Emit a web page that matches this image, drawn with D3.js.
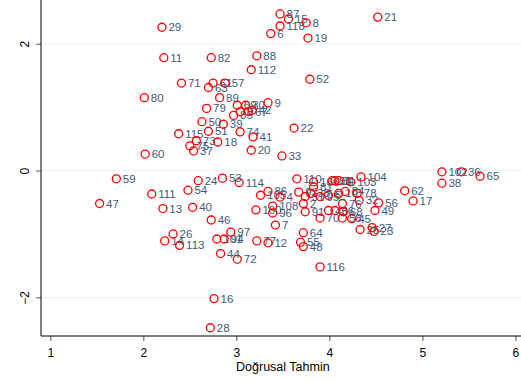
<!DOCTYPE html>
<html>
<head>
<meta charset="utf-8">
<script src="https://cdn.jsdelivr.net/npm/d3@7"></script>
<style>
  body { margin: 0; background: #fff; }
  svg { display: block; font-family: "Liberation Sans", Arial, sans-serif; }
</style>
</head>
<body>
<div id="chart"></div>
<script>
// observation ids, fitted values (x) and residuals (y)
const ids = [87,15,8,118,6,19,21,29,11,82,88,112,52,71,61,57,63,80,89,79,9,69,30,42,3,67,85,50,39,22,
  115,51,74,41,73,75,37,18,20,33,60,59,111,47,13,54,24,53,114,40,46,97,101,94,113,14,26,44,72,16,28,
  77,12,7,108,100,96,105,86,4,110,106,83,34,1,92,81,35,31,2,95,5,10,91,70,43,66,76,68,64,55,48,116,
  104,103,84,78,32,56,49,45,58,25,27,23,102,36,65,38,62,17];
const fitted = [3.47,3.56,3.75,3.47,3.37,3.77,4.52,2.20,2.22,2.73,3.22,3.16,3.79,2.41,2.75,2.88,2.70,2.01,2.82,2.68,3.34,3.01,3.10,3.17,3.04,3.13,2.97,2.63,2.86,3.62,
  2.38,2.70,3.04,3.18,2.57,2.50,2.54,2.80,3.16,3.49,2.02,1.71,2.09,1.53,2.21,2.48,2.59,2.85,3.03,2.53,2.73,2.94,2.79,2.87,2.39,2.23,2.32,2.83,3.01,2.76,2.72,
  3.22,3.34,3.42,3.39,3.21,3.39,3.26,3.34,3.47,3.65,3.83,4.03,4.06,4.10,3.67,3.83,3.80,3.74,3.72,3.90,3.99,4.10,3.74,3.90,3.99,4.06,4.14,4.15,3.72,3.69,3.72,3.90,
  4.34,4.23,4.17,4.30,4.32,4.53,4.49,4.24,4.14,4.33,4.46,4.48,5.21,5.42,5.62,5.21,4.81,4.90];
const resid = [2.47,2.39,2.33,2.28,2.16,2.09,2.42,2.26,1.78,1.78,1.81,1.59,1.44,1.38,1.38,1.38,1.31,1.15,1.15,0.98,1.07,1.03,1.03,0.95,0.93,0.93,0.87,0.77,0.73,0.67,
  0.58,0.62,0.61,0.53,0.47,0.39,0.31,0.45,0.32,0.23,0.26,-0.13,-0.37,-0.52,-0.60,-0.31,-0.16,-0.12,-0.19,-0.58,-0.78,-0.97,-1.08,-1.08,-1.18,-1.11,-1.00,-1.31,-1.40,-2.02,-2.48,
  -1.11,-1.14,-0.86,-0.56,-0.62,-0.67,-0.39,-0.33,-0.42,-0.13,-0.18,-0.16,-0.16,-0.16,-0.34,-0.26,-0.36,-0.41,-0.52,-0.41,-0.39,-0.36,-0.65,-0.75,-0.63,-0.63,-0.52,-0.65,-0.98,-1.13,-1.20,-1.52,
  -0.10,-0.18,-0.33,-0.36,-0.47,-0.51,-0.63,-0.76,-0.75,-0.93,-0.90,-0.96,-0.02,-0.02,-0.09,-0.20,-0.32,-0.48];
const xTicks = [1,2,3,4,5,6];
const yTicks = [-2,0,2];
const xTitle = "Doğrusal Tahmin";

const W = 521, H = 381;
const plot = {left: 41, right: 521, top: 0, bottom: 336};

const svg = d3.select('#chart').append('svg')
  .attr('width', W).attr('height', H);

const x = d3.scaleLinear().domain([0.9, 6.06]).range([plot.left, plot.right]);
const y = d3.scaleLinear().domain([-2.61, 2.69]).range([plot.bottom, plot.top]);

// grid lines at y ticks
svg.append('g').selectAll('line')
  .data(yTicks)
  .join('line')
  .attr('x1', plot.left).attr('x2', plot.right)
  .attr('y1', d => y(d)).attr('y2', d => y(d))
  .attr('stroke', '#eaf2f3').attr('stroke-width', 1);

// axes
const xAxisG = svg.append('g')
  .attr('transform', `translate(0,${plot.bottom})`)
  .call(d3.axisBottom(x).tickValues(xTicks).tickSize(5).tickPadding(7).tickFormat(d3.format('d')));
xAxisG.select('.domain').remove();
xAxisG.selectAll('line').attr('stroke', '#555');
xAxisG.selectAll('text').attr('font-size', 12).attr('fill', '#000')
  .attr('font-family', '"Liberation Sans", Arial, sans-serif');

const yAxisG = svg.append('g')
  .attr('transform', `translate(${plot.left},0)`)
  .call(d3.axisLeft(y).tickValues(yTicks).tickSize(5).tickFormat(d3.format('d')));
yAxisG.select('.domain').remove();
yAxisG.selectAll('line').attr('stroke', '#555');
yAxisG.selectAll('text')
  .attr('font-size', 12).attr('fill', '#000')
  .attr('font-family', '"Liberation Sans", Arial, sans-serif')
  .attr('text-anchor', 'middle')
  .attr('x', 0).attr('dy', 0)
  .attr('transform', 'translate(-12,0) rotate(-90)');

// axis lines
svg.append('line')
  .attr('x1', plot.left).attr('x2', plot.left)
  .attr('y1', plot.top).attr('y2', plot.bottom)
  .attr('stroke', '#000').attr('stroke-width', 1);
svg.append('line')
  .attr('x1', plot.left).attr('x2', plot.right)
  .attr('y1', plot.bottom).attr('y2', plot.bottom)
  .attr('stroke', '#000').attr('stroke-width', 1);

svg.append('text')
  .attr('x', (x(1) + x(6)) / 2).attr('y', 371)
  .attr('text-anchor', 'middle')
  .attr('font-size', 12.5)
  .text(xTitle);

const pts = ids.map((id, i) => ({id: id, fx: fitted[i], r: resid[i]}));

const g = svg.append('g');
g.selectAll('text')
  .data(pts)
  .join('text')
  .attr('x', d => x(d.fx) + 6.5)
  .attr('y', d => y(d.r))
  .attr('dy', '0.35em')
  .attr('font-size', 11.5)
  .attr('fill', '#3d5a7c')
  .text(d => d.id);

g.selectAll('circle')
  .data(pts)
  .join('circle')
  .attr('cx', d => x(d.fx))
  .attr('cy', d => y(d.r))
  .attr('r', 4)
  .attr('fill', 'none')
  .attr('stroke', '#ff0000')
  .attr('stroke-width', 1.3);
</script>
</body>
</html>
